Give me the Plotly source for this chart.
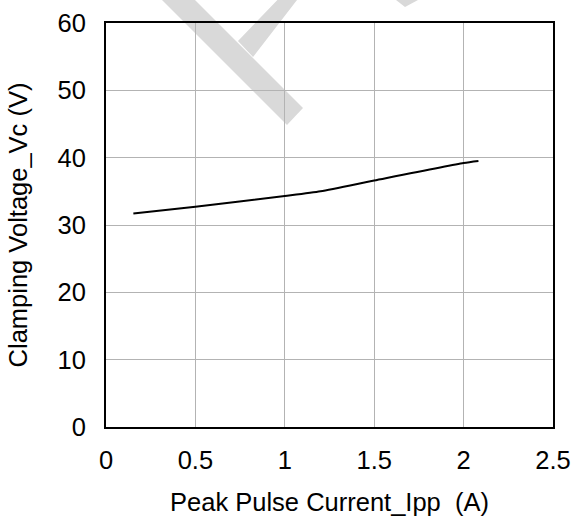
import plotly.graph_objects as go

# Data
ipp = [0.153, 0.5, 1.0, 1.2, 1.5, 2.0, 2.083]
vc = [31.7, 32.7, 34.3, 35.0, 36.6, 39.2, 39.5]

x_ticks = [0, 0.5, 1, 1.5, 2, 2.5]
x_labels = ["0", "0.5", "1", "1.5", "2", "2.5"]
y_ticks = [0, 10, 20, 30, 40, 50, 60]

W, H = 577, 516
L, R, T, B = 106, 24, 23, 89
pw, ph = W - L - R, H - T - B


def px2paper(pts):
    return [((x - L) / pw, (H - B - y) / ph) for x, y in pts]


def path(pts):
    p = px2paper(pts)
    return "M " + " L ".join(f"{a:.4f},{b:.4f}" for a, b in p) + " Z"


wm_color = "#d9d9d9"
watermark = [
    [(152, -10), (185, -10), (303, 108), (287, 125)],
    [(238, 41), (287, -10), (307, -10), (297, 0), (253, 57)],
    [(396, 0), (418, 0), (405, 7)],
]

fig = go.Figure()
fig.add_trace(go.Scatter(x=ipp, y=vc, mode="lines",
                         line=dict(color="black", width=2, shape="spline", smoothing=0.6),
                         showlegend=False))

for poly in watermark:
    fig.add_shape(type="path", path=path(poly), xref="paper", yref="paper",
                  fillcolor=wm_color, line=dict(width=0), layer="below")

font = "Liberation Sans, Arial, sans-serif"
fig.update_layout(
    width=W, height=H,
    margin=dict(l=L, r=R, t=T, b=B, autoexpand=False),
    paper_bgcolor="white", plot_bgcolor="rgba(0,0,0,0)",
    font=dict(family=font, size=25.5, color="black"),
    xaxis=dict(range=[0, 2.5], tickvals=x_ticks, ticktext=x_labels, showgrid=True, gridcolor="#b3b3b3",
               gridwidth=1, showline=True, linecolor="black", linewidth=2, mirror=True, ticks="",
               ticklabelstandoff=9, zeroline=False, automargin=False,
               title=dict(text="Peak Pulse Current_Ipp\u00a0 (A)", standoff=25, font=dict(size=25.5))),
    yaxis=dict(range=[0, 60], tickvals=y_ticks, showgrid=True, gridcolor="#b3b3b3", gridwidth=1,
               showline=True, linecolor="black", linewidth=2, mirror=True, ticks="",
               ticklabelstandoff=13, zeroline=False, automargin=False,
               title=dict(text="Clamping Voltage_Vc (V)", standoff=23, font=dict(size=25.5))),
)

fig.write_html("out.html", config={"displayModeBar": False},
               post_script="document.body.style.margin='0';")
